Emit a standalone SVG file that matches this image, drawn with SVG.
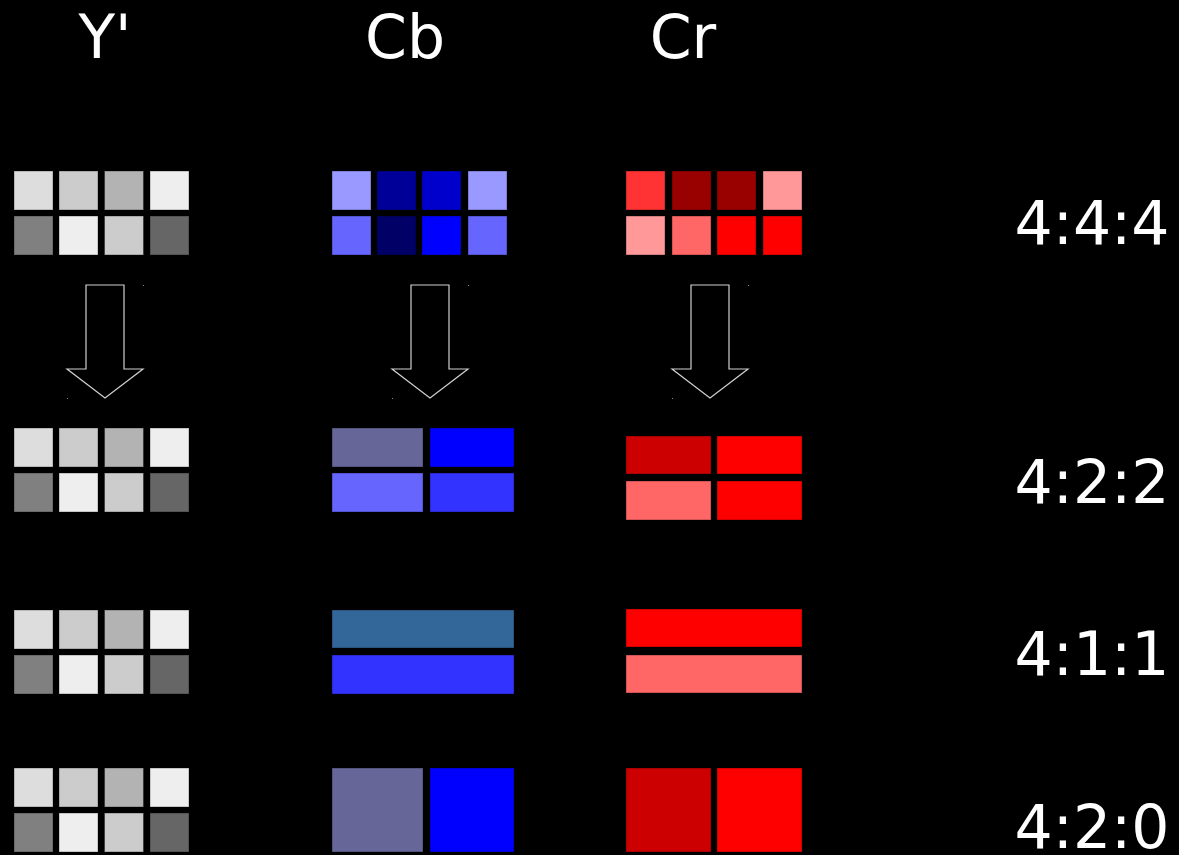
<svg xmlns="http://www.w3.org/2000/svg" width="1179" height="855" viewBox="0 0 1179 855">
  <style>
    .lbl { font-family: "DejaVu Sans", "Liberation Sans", sans-serif; font-size: 60px; fill: #ffffff; }
    .cell { stroke: #000000; stroke-opacity: 0.35; stroke-width: 1; }
    .arrow { fill: none; stroke: #d0d0d0; stroke-width: 1.2; }
    .dot { fill: #888888; }
  </style>
  <defs>
    <!-- 4x2 luma block, reused for every row -->
    <g id="luma">
      <rect class="cell" x="14" y="0" width="39" height="39" fill="#dddddd"/>
      <rect class="cell" x="59" y="0" width="39" height="39" fill="#cccccc"/>
      <rect class="cell" x="104.5" y="0" width="39" height="39" fill="#b3b3b3"/>
      <rect class="cell" x="150" y="0" width="39" height="39" fill="#eeeeee"/>
      <rect class="cell" x="14" y="45" width="39" height="39" fill="#808080"/>
      <rect class="cell" x="59" y="45" width="39" height="39" fill="#eeeeee"/>
      <rect class="cell" x="104.5" y="45" width="39" height="39" fill="#cccccc"/>
      <rect class="cell" x="150" y="45" width="39" height="39" fill="#666666"/>
    </g>
    <!-- down arrow outline, centred on x=0 -->
    <g id="down">
      <path class="arrow" d="M -19 0 L 19 0 L 19 84 L 38 84 L 0 113 L -38 84 L -19 84 Z"/>
      <rect class="dot" x="38" y="0" width="1" height="1"/>
      <rect class="dot" x="-38" y="113" width="1" height="1"/>
    </g>
  </defs>

  <rect x="0" y="0" width="1179" height="855" fill="#000000"/>

  <!-- column headings -->
  <g id="headings">
    <text class="lbl" x="105" y="58" text-anchor="middle">Y'</text>
    <text class="lbl" x="405" y="58" text-anchor="middle">Cb</text>
    <text class="lbl" x="683" y="58" text-anchor="middle">Cr</text>
  </g>

  <!-- row labels -->
  <g id="ratios">
    <text class="lbl" x="1092" y="244" text-anchor="middle">4:4:4</text>
    <text class="lbl" x="1092" y="503" text-anchor="middle">4:2:2</text>
    <text class="lbl" x="1092" y="675" text-anchor="middle">4:1:1</text>
    <text class="lbl" x="1092" y="848" text-anchor="middle">4:2:0</text>
  </g>

  <!-- 4:4:4 -->
  <g id="y-444"><use href="#luma" y="171"/></g>
  <g id="cb-444">
    <rect class="cell" x="332" y="171" width="39" height="39" fill="#9999ff"/>
    <rect class="cell" x="377" y="171" width="39" height="39" fill="#000099"/>
    <rect class="cell" x="422" y="171" width="39" height="39" fill="#0000cc"/>
    <rect class="cell" x="468" y="171" width="39" height="39" fill="#9999ff"/>
    <rect class="cell" x="332" y="216" width="39" height="39" fill="#6666ff"/>
    <rect class="cell" x="377" y="216" width="39" height="39" fill="#000066"/>
    <rect class="cell" x="422" y="216" width="39" height="39" fill="#0000ff"/>
    <rect class="cell" x="468" y="216" width="39" height="39" fill="#6666ff"/>
  </g>
  <g id="cr-444">
    <rect class="cell" x="626" y="171" width="39" height="39" fill="#ff3333"/>
    <rect class="cell" x="672" y="171" width="39" height="39" fill="#990000"/>
    <rect class="cell" x="717" y="171" width="39" height="39" fill="#990000"/>
    <rect class="cell" x="763" y="171" width="39" height="39" fill="#ff9999"/>
    <rect class="cell" x="626" y="216" width="39" height="39" fill="#ff9999"/>
    <rect class="cell" x="672" y="216" width="39" height="39" fill="#ff6666"/>
    <rect class="cell" x="717" y="216" width="39" height="39" fill="#ff0000"/>
    <rect class="cell" x="763" y="216" width="39" height="39" fill="#ff0000"/>
  </g>

  <!-- subsampling arrows -->
  <g id="connectors">
    <use href="#down" x="105" y="285"/>
    <use href="#down" x="430" y="285"/>
    <use href="#down" x="710" y="285"/>
  </g>

  <!-- 4:2:2 -->
  <g id="y-422"><use href="#luma" y="428"/></g>
  <g id="cb-422">
    <rect class="cell" x="332" y="428" width="91" height="39" fill="#666699"/>
    <rect class="cell" x="430" y="428" width="84" height="39" fill="#0000ff"/>
    <rect class="cell" x="332" y="473" width="91" height="39" fill="#6666ff"/>
    <rect class="cell" x="430" y="473" width="84" height="39" fill="#3333ff"/>
  </g>
  <g id="cr-422">
    <rect class="cell" x="626" y="436" width="85" height="38" fill="#cc0000"/>
    <rect class="cell" x="717" y="436" width="85" height="38" fill="#ff0000"/>
    <rect class="cell" x="626" y="481" width="85" height="39" fill="#ff6666"/>
    <rect class="cell" x="717" y="481" width="85" height="39" fill="#ff0000"/>
  </g>

  <!-- 4:1:1 -->
  <g id="y-411"><use href="#luma" y="610"/></g>
  <g id="cb-411">
    <rect class="cell" x="332" y="610" width="182" height="38" fill="#336699"/>
    <rect class="cell" x="332" y="655" width="182" height="39" fill="#3333ff"/>
  </g>
  <g id="cr-411">
    <rect class="cell" x="626" y="609" width="176" height="38" fill="#ff0000"/>
    <rect class="cell" x="626" y="655" width="176" height="38" fill="#ff6666"/>
  </g>

  <!-- 4:2:0 -->
  <g id="y-420"><use href="#luma" y="768"/></g>
  <g id="cb-420">
    <rect class="cell" x="332" y="768" width="91" height="84" fill="#666699"/>
    <rect class="cell" x="430" y="768" width="84" height="84" fill="#0000ff"/>
  </g>
  <g id="cr-420">
    <rect class="cell" x="626" y="768" width="85" height="84" fill="#cc0000"/>
    <rect class="cell" x="717" y="768" width="85" height="84" fill="#ff0000"/>
  </g>
</svg>
